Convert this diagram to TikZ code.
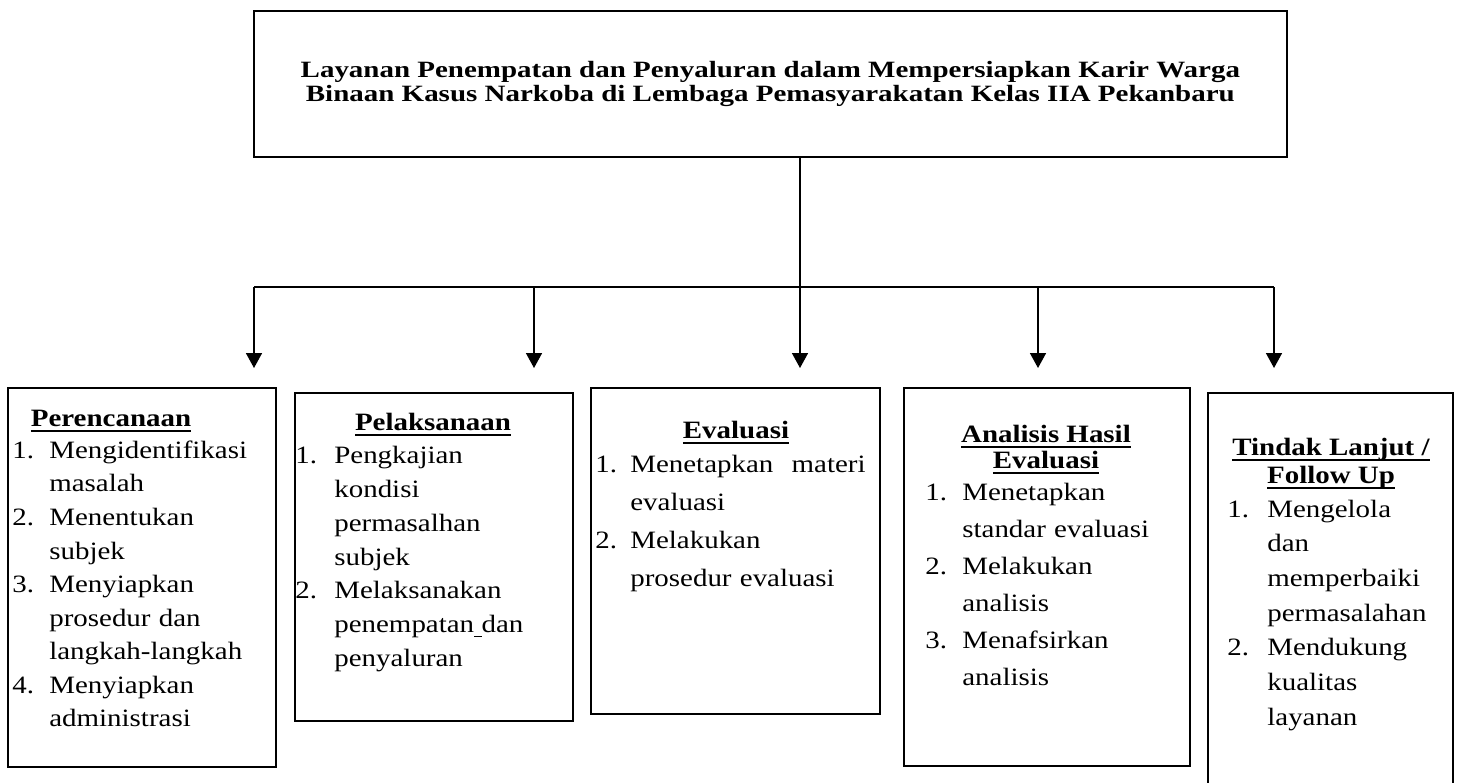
\documentclass[tikz,border=0pt]{standalone}
\usepackage{fontspec}
\setmainfont{Liberation Serif}[FakeStretch=1.16]
\newfontfamily\judulfont{Liberation Serif}[FakeStretch=1.24]
\usetikzlibrary{positioning,arrows.meta}

\setlength{\lineskiplimit}{-1cm}
\newlength{\numw}
\newsavebox{\ulbox}
\newcommand{\garisbawah}[1]{\sbox{\ulbox}{#1}\rlap{\rule[-3.2pt]{\wd\ulbox}{1pt}}\usebox{\ulbox}}
\newcommand{\butir}[2]{\ifvmode\noindent\fi\hangindent=\numw\hangafter=1\rule{0pt}{0.4cm}\makebox[\numw][l]{#1}{\let\\\newline #2}\par}

\begin{document}
\begin{tikzpicture}[
    x=0.02cm, y=-0.02cm,
    kotak/.style={rectangle, draw, line width=1.1pt, anchor=north west},
    judulbox/.style={kotak, align=center, font=\judulfont\bfseries\fontsize{13.3pt}{13.5pt}\selectfont},
    kepala/.style={anchor=north, inner sep=0pt, align=center, font=\bfseries\fontsize{14.2pt}{#1}\selectfont},
    isi/.style={anchor=north west, inner sep=0pt, text width=6cm, align=left, font=\fontsize{14.2pt}{#1}\selectfont},
    garis/.style={line width=0.9pt},
    panah/.style={-{Triangle[length=0.3cm, width=0.32cm]}, line width=0.9pt}
]
    \useasboundingbox (0,0) rectangle (1457,782);

    % Judul
    \node[judulbox, minimum width=20.66cm, minimum height=2.92cm] (judul) at (253,10) {
        Layanan Penempatan dan Penyaluran dalam Mempersiapkan Karir Warga\\
        Binaan Kasus Narkoba di Lembaga Pemasyarakatan Kelas IIA Pekanbaru
    };

    % Kotak tahap
    \node[kotak, minimum width=5.36cm, minimum height=7.58cm] (b1) at (7,387) {};
    \node[kotak, minimum width=5.56cm, minimum height=6.56cm] (b2) at (294,392) {};
    \node[kotak, minimum width=5.78cm, minimum height=6.52cm] (b3) at (590,387) {};
    \node[kotak, minimum width=5.72cm, minimum height=7.56cm] (b4) at (903,387) {};
    \node[kotak, minimum width=4.90cm, minimum height=8.40cm] (b5) at (1207,392) {};

    % Perencanaan
    \node[kepala=17pt] (h1) at (111,406) {\rule{0pt}{0.4cm}\garisbawah{Perencanaan}};
    \node[isi=19.1pt] (l1) at (12,438) {\setlength{\numw}{0.74cm}%
        \butir{1.}{Mengidentifikasi\\masalah}
        \butir{2.}{Menentukan\\subjek}
        \butir{3.}{Menyiapkan\\prosedur dan\\langkah-langkah}
        \butir{4.}{Menyiapkan\\administrasi}};

    % Pelaksanaan
    \node[kepala=17pt] (h2) at (433,410) {\rule{0pt}{0.4cm}\garisbawah{Pelaksanaan}};
    \node[isi=19.3pt] (l2) at (295,443) {\setlength{\numw}{0.78cm}%
        \butir{1.}{Pengkajian\\kondisi\\permasalhan\\subjek}
        \butir{2.}{Melaksanakan\\penempatan\rule[-2.6pt]{0.3em}{0.8pt}dan\\penyaluran}};

    % Evaluasi
    \node[kepala=17pt] (h3) at (736,418) {\rule{0pt}{0.4cm}\garisbawah{Evaluasi}};
    \node[isi=21.6pt] (l3) at (595,452) {\setlength{\numw}{0.70cm}%
        \butir{1.}{Menetapkan\hspace{0.4em} materi\\evaluasi}
        \butir{2.}{Melakukan\\prosedur evaluasi}};

    % Analisis Hasil Evaluasi
    \node[kepala=14.8pt] (h4) at (1046,422) {\rule{0pt}{0.4cm}\garisbawah{Analisis Hasil}\\\garisbawah{Evaluasi}};
    \node[isi=21.1pt] (l4) at (925,480) {\setlength{\numw}{0.74cm}%
        \butir{1.}{Menetapkan\\standar evaluasi}
        \butir{2.}{Melakukan\\analisis}
        \butir{3.}{Menafsirkan\\analisis}};

    % Tindak Lanjut
    \node[kepala=15.9pt] (h5) at (1331,435) {\rule{0pt}{0.4cm}\garisbawah{Tindak Lanjut /}\\\garisbawah{Follow Up}};
    \node[isi=19.7pt] (l5) at (1227,497) {\setlength{\numw}{0.80cm}%
        \butir{1.}{Mengelola\\dan\\memperbaiki\\permasalahan}
        \butir{2.}{Mendukung\\kualitas\\layanan}};

    % Cabang
    \coordinate (j1) at (254,287);
    \coordinate (j2) at (534,287);
    \coordinate (j3) at (800,287);
    \coordinate (j4) at (1038,287);
    \coordinate (j5) at (1274,287);

    \draw[garis] (judul.south -| j3) -- (j3);
    \draw[garis] (j1) -- (j5);
    \foreach \j/\b/\g in {j1/b1/0.38, j2/b2/0.48, j3/b3/0.38, j4/b4/0.38, j5/b5/0.48}
        \draw[panah, shorten >=\g cm] (\j) -- (\j |- \b.north);
\end{tikzpicture}
\end{document}
